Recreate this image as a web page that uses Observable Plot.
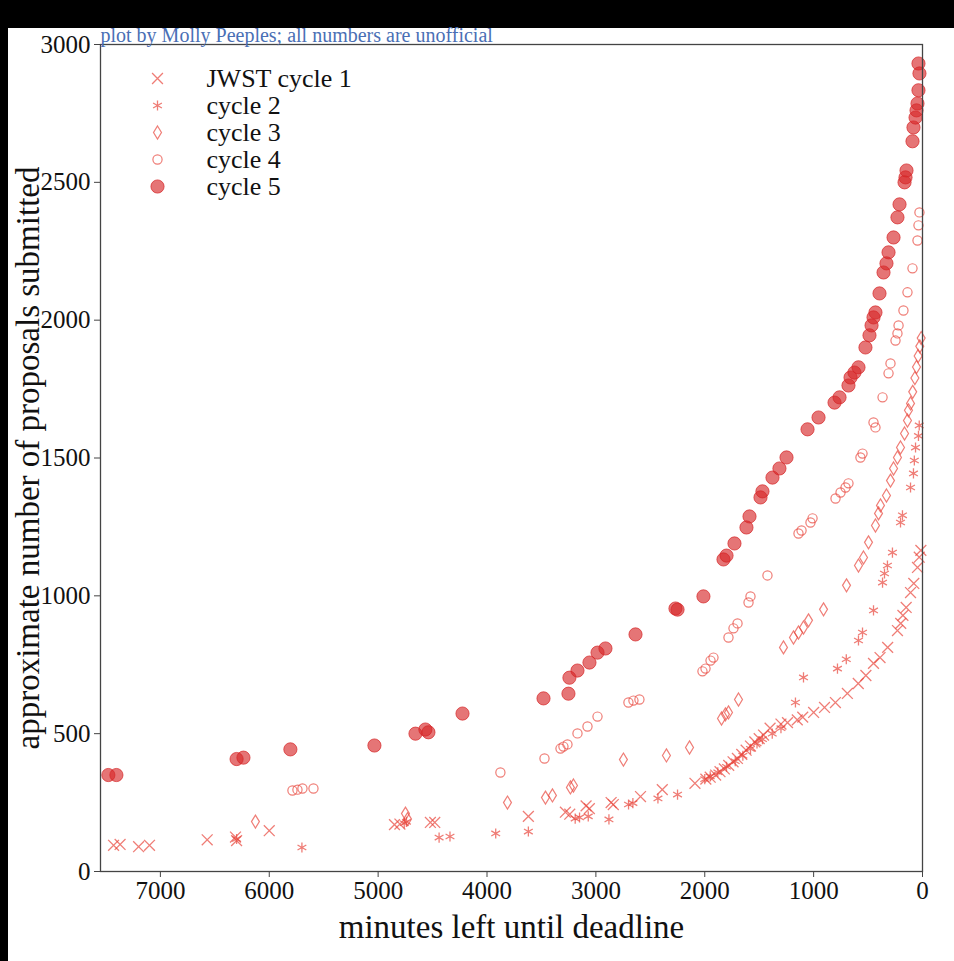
<!DOCTYPE html>
<html>
<head>
<meta charset="utf-8">
<script src="https://cdn.jsdelivr.net/npm/d3@7"></script>
<script src="https://cdn.jsdelivr.net/npm/@observablehq/plot@0.6"></script>
<style>
  html, body { margin: 0; padding: 0; background: #000; width: 954px; height: 961px; overflow: hidden; }
  #paper { position: absolute; left: 8px; top: 28px; width: 946px; height: 933px; background: #fff; }
  #chart { position: absolute; left: 0; top: 0; }
</style>
</head>
<body>
<div id="paper"></div>
<div id="chart"></div>
<script>
// ---- data: [minutes left until deadline, approx. number of proposals submitted] ----
const seriesNames = ["JWST cycle 1", "cycle 2", "cycle 3", "cycle 4", "cycle 5"];

const cycle1 = [
  [7430,95],[7370,98],[7200,90],[7100,95],[6570,115],[6310,125],[6300,112],[6000,148],
  [4850,170],[4800,172],[4520,178],[4480,178],[3620,200],[3280,215],[3240,208],[3090,238],
  [3060,228],[2860,250],[2840,243],[2590,272],[2390,297],[2090,320],[1990,335],[1950,342],
  [1900,350],[1860,362],[1820,372],[1780,385],[1740,398],[1700,410],[1660,425],[1620,440],
  [1580,455],[1540,470],[1500,482],[1460,495],[1400,520],[1300,535],[1240,540],[1150,550],
  [1100,560],[1000,577],[900,595],[800,613],[690,646],[590,682],[520,711],[450,755],
  [390,776],[320,813],[230,874],[200,900],[180,929],[150,958],[110,1012],[80,1045],
  [46,1103],[30,1140],[15,1165]
];
const cycle2 = [
  [6300,118],[5700,87],[4760,175],[4740,180],[4440,123],[4340,127],[3920,138],[3620,145],
  [3190,192],[3150,196],[3070,200],[2880,189],[2700,243],[2660,248],[2430,265],[2250,279],
  [2000,335],[1950,345],[1880,360],[1800,380],[1720,400],[1650,420],[1580,445],[1520,465],
  [1470,480],[1380,500],[1300,520],[1167,613],[1093,704],[781,736],[700,770],[588,838],
  [551,867],[450,947],[367,1048],[349,1081],[322,1110],[276,1157],[202,1266],[184,1292],
  [110,1393],[83,1444],[75,1491],[64,1538],[37,1580],[30,1618]
];
const cycle3 = [
  [6127,181],[4749,210],[4730,190],[3812,250],[3463,268],[3399,276],[3234,305],[3206,312],
  [2747,406],[2352,421],[2140,450],[1846,555],[1810,570],[1782,577],[1690,624],[1277,813],
  [1185,849],[1139,867],[1093,885],[1047,911],[909,951],[698,1038],[588,1110],[542,1139],
  [496,1194],[432,1255],[404,1299],[386,1328],[331,1364],[294,1418],[266,1462],[230,1502],
  [202,1538],[165,1589],[138,1636],[129,1673],[110,1698],[90,1740],[70,1790],[55,1830],
  [40,1870],[25,1905],[12,1935]
];
const cycle4 = [
  [5787,294],[5741,297],[5695,301],[5594,301],[3877,359],[3472,410],[3325,446],[3298,453],
  [3261,461],[3169,501],[3077,526],[2985,562],[2701,613],[2655,620],[2600,624],[2021,726],
  [1993,736],[1947,765],[1920,776],[1782,849],[1736,882],[1699,900],[1598,976],[1580,998],
  [1424,1074],[1139,1226],[1111,1237],[1029,1266],[1010,1281],[799,1353],[753,1375],[707,1393],
  [680,1408],[570,1502],[551,1516],[450,1629],[432,1611],[367,1720],[312,1807],[294,1843],
  [248,1926],[230,1952],[220,1981],[175,2035],[138,2101],[92,2188],[46,2289],[37,2344],[28,2391]
];
const cycle5 = [
  [7478,350],[7404,350],[6300,408],[6237,413],[5806,443],[5034,457],[4657,500],[4566,515],
  [4538,505],[4225,573],[3481,628],[3252,645],[3243,703],[3169,729],[3059,758],[2985,794],
  [2912,809],[2636,860],[2269,954],[2250,950],[2012,998],[1828,1132],[1800,1146],[1727,1190],
  [1617,1248],[1589,1288],[1488,1357],[1470,1379],[1378,1429],[1314,1462],[1249,1502],[1056,1604],
  [955,1647],[808,1701],[762,1720],[680,1763],[661,1792],[625,1810],[588,1829],[524,1901],
  [487,1945],[468,1981],[450,2010],[432,2028],[395,2097],[358,2173],[331,2206],[312,2246],
  [266,2300],[230,2373],[211,2420],[165,2500],[156,2518],[147,2543],[92,2649],[83,2699],
  [64,2735],[55,2761],[46,2786],[37,2834],[28,2895],[37,2931]
];

const xTicks = [7000, 6000, 5000, 4000, 3000, 2000, 1000, 0];
const yTicks = [0, 500, 1000, 1500, 2000, 2500, 3000];
const credit = "plot by Molly Peeples; all numbers are unofficial";
const xLabel = "minutes left until deadline";
const yLabel = "approximate number of proposals submitted";

// ---- styles ----
const red = "#d62728";
const light = "#e8463c";
const thinDiamond = {
  draw(ctx, size) {
    const s = Math.sqrt(size);
    const h = s * 0.92, w = s * 0.56;
    ctx.moveTo(0, -h); ctx.lineTo(w, 0); ctx.lineTo(0, h); ctx.lineTo(-w, 0); ctx.closePath();
  }
};
const styles = [
  {symbol: "times", r: 5, stroke: light, strokeOpacity: 0.7, strokeWidth: 1.3, fill: "none"},
  {symbol: "asterisk", r: 4.8, stroke: light, strokeOpacity: 0.7, strokeWidth: 1.3, fill: "none"},
  {symbol: thinDiamond, r: 4, stroke: light, strokeOpacity: 0.7, strokeWidth: 1.2, fill: "none"},
  {symbol: "circle", r: 4.6, stroke: light, strokeOpacity: 0.7, strokeWidth: 1.2, fill: "none"},
  {symbol: "circle", r: 6.6, stroke: red, strokeOpacity: 0.7, strokeWidth: 1, fill: red, fillOpacity: 0.64}
];
const allSeries = [cycle1, cycle2, cycle3, cycle4, cycle5];

const dataMarks = allSeries.map((s, i) => Plot.dot(s, {x: d => d[0], y: d => d[1], ...styles[i]}));
const legendMarks = seriesNames.flatMap((name, i) => [
  Plot.dot([name], {frameAnchor: "top-left", dx: 57, dy: 34 + i * 27, ...styles[i]}),
  Plot.text([name], {frameAnchor: "top-left", dx: 106, dy: 34 + i * 27, text: d => d,
    textAnchor: "start", lineAnchor: "middle", fontSize: 26, fill: "#111"})
]);

const chart = Plot.plot({
  width: 954,
  height: 961,
  marginLeft: 100,
  marginRight: 32,
  marginTop: 44,
  marginBottom: 90,
  style: {background: "transparent", fontFamily: "'Liberation Serif', 'DejaVu Serif', serif", color: "#111"},
  x: {domain: [7550, 0]},
  y: {domain: [0, 3000]},
  marks: [
    ...dataMarks,
    Plot.frame({stroke: "#444", strokeWidth: 1.3}),
    Plot.axisX(xTicks, {tickSize: 6, tickPadding: 4, fontSize: 25, tickFormat: d => String(d), label: null, stroke: "#444"}),
    Plot.axisY(yTicks, {tickSize: 6, tickPadding: 4, fontSize: 25, tickFormat: d => String(d), label: null, stroke: "#444"}),
    Plot.text([xLabel], {frameAnchor: "bottom", dy: 56, text: d => d, fontSize: 33, lineAnchor: "middle", textAnchor: "middle", fill: "#111"}),
    Plot.text([yLabel], {frameAnchor: "left", dx: -72, rotate: -90, text: d => d, fontSize: 33, textAnchor: "middle", lineAnchor: "middle", fill: "#111"}),
    Plot.text([credit], {frameAnchor: "top-left", dy: -3, text: d => d, textAnchor: "start", lineAnchor: "bottom", fontSize: 20, fill: "#4a6fb5"}),
    ...legendMarks
  ]
});
document.getElementById("chart").appendChild(chart);
</script>
</body>
</html>
